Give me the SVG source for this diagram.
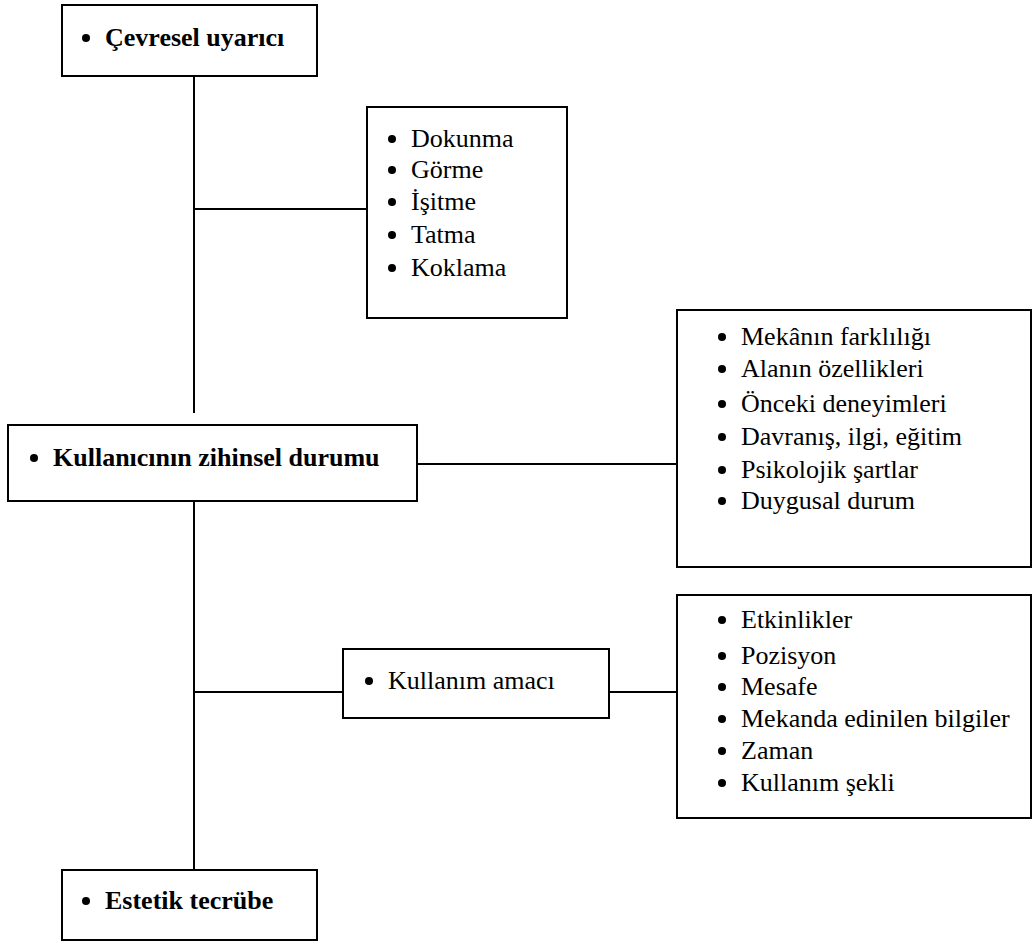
<svg xmlns="http://www.w3.org/2000/svg" width="1032" height="943" viewBox="0 0 1032 943">
<style>
.box{fill:#fff;stroke:#000;stroke-width:2}
.ln{stroke:#000;stroke-width:2;fill:none}
.t{font-family:"Liberation Serif","Times New Roman",serif;font-size:26px;fill:#000}
.b{font-weight:bold}
.dot{fill:#000}
</style>
<rect width="1032" height="943" fill="#fff"/>
<g id="connectors">
<line class="ln" x1="194" y1="76" x2="194" y2="413"/>
<line class="ln" x1="194" y1="209" x2="367" y2="209"/>
<line class="ln" x1="417" y1="464" x2="677" y2="464"/>
<line class="ln" x1="194" y1="501" x2="194" y2="870"/>
<line class="ln" x1="194" y1="692" x2="343" y2="692"/>
<line class="ln" x1="609" y1="692" x2="677" y2="692"/>
</g>
<g id="n1">
<rect class="box" x="62" y="5" width="255" height="71"/>
<circle class="dot" cx="86" cy="38" r="4"/>
<text class="t b" x="105" y="46">Çevresel uyarıcı</text>
</g>
<g id="n2">
<rect class="box" x="367" y="107" width="200" height="211"/>
<circle class="dot" cx="392" cy="139" r="4"/>
<circle class="dot" cx="392" cy="170" r="4"/>
<circle class="dot" cx="392" cy="202" r="4"/>
<circle class="dot" cx="392" cy="235" r="4"/>
<circle class="dot" cx="392" cy="268" r="4"/>
<text class="t"><tspan x="411" y="147">Dokunma</tspan><tspan x="411" y="178">Görme</tspan><tspan x="411" y="210">İşitme</tspan><tspan x="411" y="243">Tatma</tspan><tspan x="411" y="276">Koklama</tspan></text>
</g>
<g id="n3">
<rect class="box" x="8" y="425" width="409" height="76"/>
<circle class="dot" cx="34" cy="458" r="4"/>
<text class="t b" x="53" y="466">Kullanıcının zihinsel durumu</text>
</g>
<g id="n4">
<rect class="box" x="677" y="310" width="354" height="257"/>
<circle class="dot" cx="722" cy="337" r="4"/>
<circle class="dot" cx="722" cy="369" r="4"/>
<circle class="dot" cx="722" cy="404" r="4"/>
<circle class="dot" cx="722" cy="437" r="4"/>
<circle class="dot" cx="722" cy="470" r="4"/>
<circle class="dot" cx="722" cy="501" r="4"/>
<text class="t"><tspan x="741" y="345">Mekânın farklılığı</tspan><tspan x="741" y="377">Alanın özellikleri</tspan><tspan x="741" y="412">Önceki deneyimleri</tspan><tspan x="741" y="445">Davranış, ilgi, eğitim</tspan><tspan x="741" y="478">Psikolojik şartlar</tspan><tspan x="741" y="509">Duygusal durum</tspan></text>
</g>
<g id="n5">
<rect class="box" x="343" y="649" width="266" height="69"/>
<circle class="dot" cx="369" cy="681" r="4"/>
<text class="t" x="388" y="689">Kullanım amacı</text>
</g>
<g id="n6">
<rect class="box" x="677" y="595" width="354" height="223"/>
<circle class="dot" cx="722" cy="620" r="4"/>
<circle class="dot" cx="722" cy="656" r="4"/>
<circle class="dot" cx="722" cy="687" r="4"/>
<circle class="dot" cx="722" cy="719" r="4"/>
<circle class="dot" cx="722" cy="751" r="4"/>
<circle class="dot" cx="722" cy="783" r="4"/>
<text class="t"><tspan x="741" y="628">Etkinlikler</tspan><tspan x="741" y="664">Pozisyon</tspan><tspan x="741" y="695">Mesafe</tspan><tspan x="741" y="727">Mekanda edinilen bilgiler</tspan><tspan x="741" y="759">Zaman</tspan><tspan x="741" y="791">Kullanım şekli</tspan></text>
</g>
<g id="n7">
<rect class="box" x="62" y="870" width="255" height="70"/>
<circle class="dot" cx="86" cy="901" r="4"/>
<text class="t b" x="105" y="909">Estetik tecrübe</text>
</g>
</svg>
